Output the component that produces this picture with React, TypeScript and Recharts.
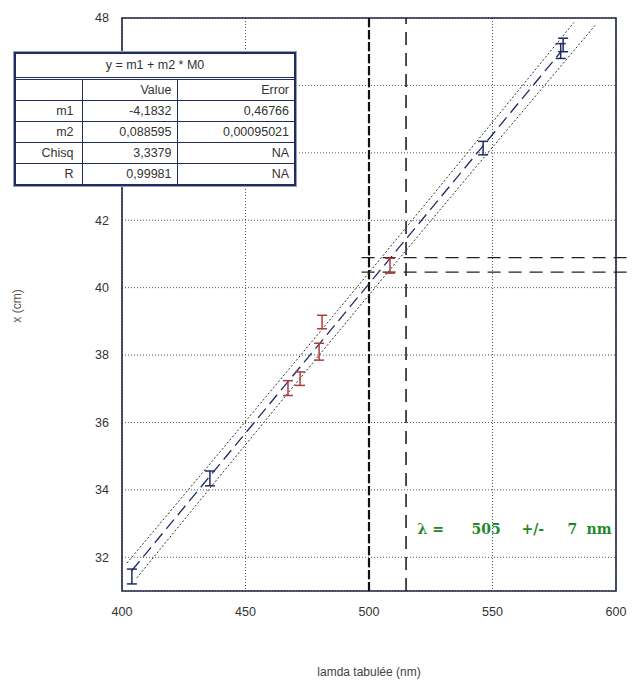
import React from 'react';
import {
  ComposedChart,
  XAxis,
  YAxis,
  CartesianGrid,
  Line,
  Scatter,
  ErrorBar,
  ReferenceLine,
  ReferenceArea,
  ReferenceDot,
  Label
} from 'recharts';

// fit coefficients (y = m1 + m2 * M0)
const m1 = -4.1832;
const m2 = 0.088595;
const m1Err = '0,46766';
const m2Err = '0,00095021';
const chisq = '3,3379';
const rValue = '0,99981';

// measured points, blue set
const blueLambda = [404, 435.6, 546.2, 577.6, 578.6];
const blueX = [31.43, 34.34, 44.14, 47.02, 47.2];
const blueErr = [0.22, 0.22, 0.2, 0.22, 0.2];

// measured points, red set
const redLambda = [467.2, 472.1, 479.8, 481, 508.5];
const redX = [37.02, 37.3, 38.1, 38.98, 40.65];
const redErr = [0.22, 0.2, 0.25, 0.2, 0.22];

// confidence band edges
const upperBandLambda = [402, 490, 583];
const upperBandX = [31.83, 39.56, 47.87];
const lowerBandLambda = [406, 490, 592];
const lowerBandX = [31.39, 38.9, 47.82];

const fitRange = [404, 578];

// result: lambda = 505 +/- 7 nm, measured x window
const lambdaLines = [500, 515];
const xLines = [40.89, 40.46];

const xTicks = [400, 450, 500, 550, 600];
const yTicks = [32, 34, 36, 38, 40, 42, 44, 46, 48];

const toPts = (xs: number[], ys: number[], errs?: number[]) =>
  xs.map((x, i) => ({ x, y: ys[i], err: errs ? errs[i] : 0 }));

const bluePts = toPts(blueLambda, blueX, blueErr);
const redPts = toPts(redLambda, redX, redErr);
const upperBand = toPts(upperBandLambda, upperBandX);
const lowerBand = toPts(lowerBandLambda, lowerBandX);
const fitLine = fitRange.map((x) => ({ x, y: m1 + m2 * x }));

const NAVY = '#1f2b63';
const RED = '#b23a3a';
const FRAME = '#1f2646';
const FONT = '"Liberation Sans", Arial, sans-serif';

const cell: React.CSSProperties = {
  borderRight: `1px solid ${NAVY}`,
  borderBottom: `1px solid ${NAVY}`,
  textAlign: 'right',
  padding: '0 5px',
  height: 20,
  lineHeight: '20px'
};

const FitTable = () => {
  const rows = [
    ['m1', '-4,1832', m1Err],
    ['m2', '0,088595', m2Err],
    ['Chisq', chisq, 'NA'],
    ['R', rValue, 'NA']
  ];
  return (
    <div
      style={{
        position: 'absolute',
        left: 14,
        top: 52,
        width: 278,
        border: `2px solid ${NAVY}`,
        boxShadow: '0 0 0 1px #9a9fb0',
        background: '#fff',
        fontFamily: FONT,
        fontSize: 12.5,
        color: '#333'
      }}
    >
      <table style={{ borderCollapse: 'collapse', width: '100%', tableLayout: 'fixed' }}>
        <colgroup>
          <col style={{ width: 66 }} />
          <col style={{ width: 95 }} />
          <col />
        </colgroup>
        <tbody>
          <tr>
            <td
              colSpan={3}
              style={{
                ...cell,
                textAlign: 'center',
                borderRight: 'none',
                borderBottom: `3px double ${NAVY}`,
                height: 23,
                lineHeight: '23px'
              }}
            >
              y = m1 + m2 * M0
            </td>
          </tr>
          <tr>
            <td style={cell}></td>
            <td style={cell}>Value</td>
            <td style={{ ...cell, borderRight: 'none' }}>Error</td>
          </tr>
          {rows.map((r, i) => {
            const last = i === rows.length - 1;
            const b = last ? 'none' : cell.borderBottom;
            return (
              <tr key={r[0]}>
                <td style={{ ...cell, paddingRight: 8, borderBottom: b }}>{r[0]}</td>
                <td style={{ ...cell, borderBottom: b }}>{r[1]}</td>
                <td style={{ ...cell, borderRight: 'none', borderBottom: b }}>{r[2]}</td>
              </tr>
            );
          })}
        </tbody>
      </table>
    </div>
  );
};

const ResultText = (props: any) => {
  const { x, y } = props.viewBox;
  const style = { fill: '#23882a', fontWeight: 700, fontSize: 14, fontFamily: '"DejaVu Serif", serif' };
  return (
    <text x={x} y={y + 5} style={style}>
      <tspan x={x + 4}>λ =</tspan>
      <tspan x={x + 58}>505</tspan>
      <tspan x={x + 108}>+/-</tspan>
      <tspan x={x + 154}>7</tspan>
      <tspan x={x + 173}>nm</tspan>
    </text>
  );
};

const YTitle = () => (
  <text
    x={18}
    y={306}
    transform="rotate(-90, 18, 306)"
    textAnchor="middle"
    dominantBaseline="middle"
    style={{ fill: '#555', fontSize: 12, fontFamily: FONT }}
  >
    x (cm)
  </text>
);

const noShape = () => <g />;

export default function App() {
  return (
    <div style={{ position: 'absolute', left: 0, top: 0, width: 633, height: 686, background: '#fff' }}>
      <ComposedChart
        width={633}
        height={686}
        margin={{ top: 18, right: 17, left: 82, bottom: 65 }}
      >
        <CartesianGrid stroke="#555" strokeDasharray="1 2" strokeWidth={1} />
        <XAxis
          type="number"
          dataKey="x"
          domain={[400, 600]}
          ticks={xTicks}
          allowDataOverflow
          height={30}
          tickSize={0}
          tickMargin={16}
          axisLine={false}
          tick={{ fill: '#333', fontSize: 12.5, fontFamily: FONT }}
        >
          <Label
            value="lamda tabulée (nm)"
            position="bottom"
            offset={46}
            style={{ fill: '#444', fontSize: 12, fontFamily: FONT }}
          />
        </XAxis>
        <YAxis
          type="number"
          dataKey="y"
          domain={[31, 48]}
          ticks={yTicks}
          allowDataOverflow
          width={40}
          tickSize={0}
          tickMargin={13}
          axisLine={false}
          tick={{ fill: '#333', fontSize: 12.5, fontFamily: FONT }}
        >
          <Label content={YTitle} />
        </YAxis>

        <ReferenceArea x1={400} x2={600} y1={31} y2={48} fill="none" stroke={FRAME} strokeWidth={1.6} />

        <ReferenceLine x={lambdaLines[0]} stroke="#111" strokeWidth={2.2} strokeDasharray="9 3" />
        <ReferenceLine x={lambdaLines[1]} stroke="#222" strokeWidth={1.6} strokeDasharray="13 8" />
        {xLines.map((v) => (
          <ReferenceLine
            key={v}
            segment={[{ x: 497, y: v }, { x: 606, y: v }]}
            ifOverflow="visible"
            stroke="#222"
            strokeWidth={1.3}
            strokeDasharray="13 8"
          />
        ))}

        <Line data={upperBand} dataKey="y" type="monotone" stroke="#333" strokeWidth={1} strokeDasharray="2 2" dot={false} isAnimationActive={false} />
        <Line data={lowerBand} dataKey="y" type="monotone" stroke="#333" strokeWidth={1} strokeDasharray="2 2" dot={false} isAnimationActive={false} />
        <Line data={fitLine} dataKey="y" type="linear" stroke={NAVY} strokeWidth={1.3} strokeDasharray="12 6" dot={false} isAnimationActive={false} />

        <Scatter data={bluePts} dataKey="y" shape={noShape} isAnimationActive={false}>
          <ErrorBar dataKey="err" direction="y" width={5} stroke={NAVY} strokeWidth={1.5} isAnimationActive={false} />
        </Scatter>
        <Scatter data={redPts} dataKey="y" shape={noShape} isAnimationActive={false}>
          <ErrorBar dataKey="err" direction="y" width={5} stroke={RED} strokeWidth={1.5} isAnimationActive={false} />
        </Scatter>

        <ReferenceDot x={518} y={32.85} r={0} fill="none" stroke="none" label={<ResultText />} />
      </ComposedChart>
      <FitTable />
    </div>
  );
}
